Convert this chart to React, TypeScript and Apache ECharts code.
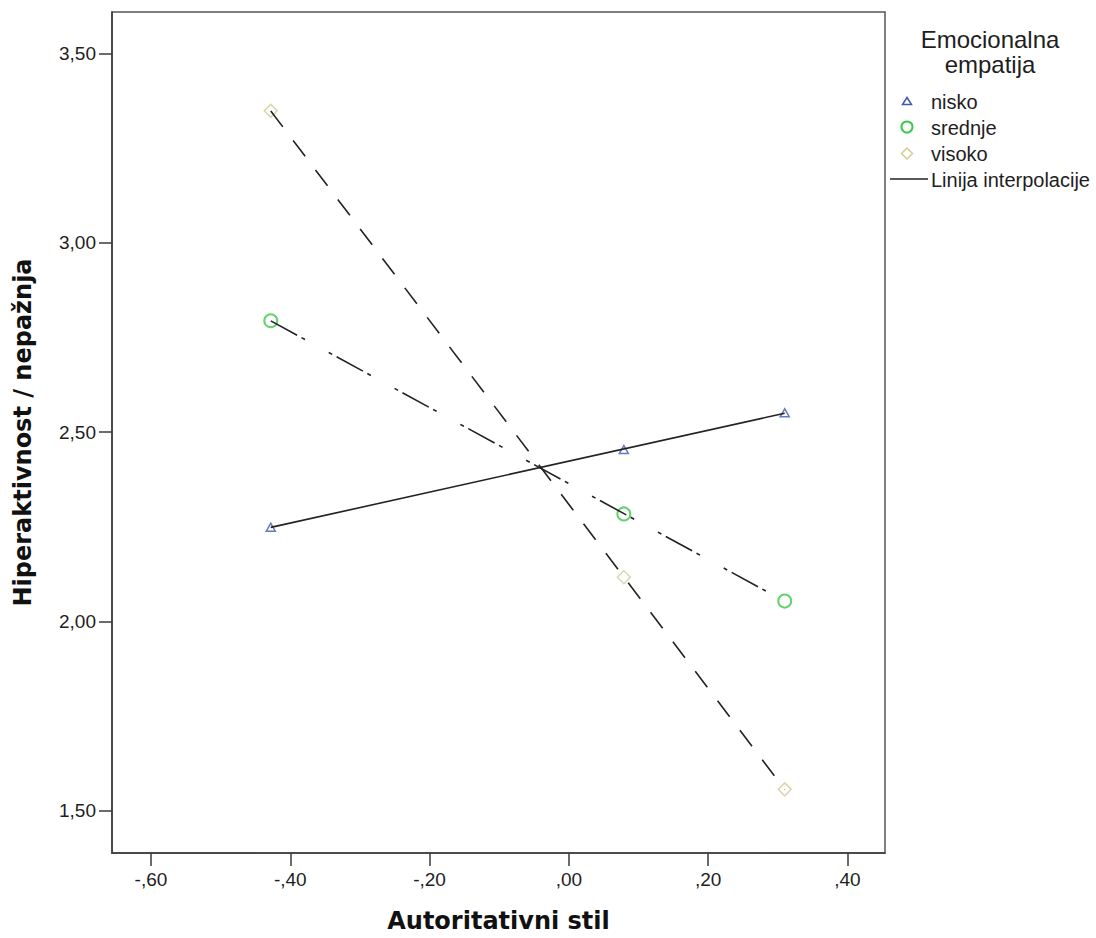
import React, { useEffect, useRef } from "react";
import * as echarts from "echarts";

// Data
const xValues = [-0.428, 0.079, 0.31];
const niskoY = [2.249, 2.454, 2.551];
const srednjeY = [2.794, 2.284, 2.054];
const visokoY = [3.348, 2.117, 1.557];
const xTicks = [-0.6, -0.4, -0.2, 0, 0.2, 0.4];
const yTicks = [1.5, 2.0, 2.5, 3.0, 3.5];
const groupNames = ["nisko", "srednje", "visoko"];
const legendTitle = ["Emocionalna", "empatija"];
const lineLegend = "Linija interpolacije";

const pairs = (ys: number[]) => xValues.map((x, i) => [x, ys[i]]);

// least-squares line through the group's points, drawn between min and max x
function fitLine(ys: number[]) {
  const n = xValues.length;
  const mx = xValues.reduce((a, b) => a + b, 0) / n;
  const my = ys.reduce((a, b) => a + b, 0) / n;
  let sxy = 0;
  let sxx = 0;
  for (let i = 0; i < n; i++) {
    sxy += (xValues[i] - mx) * (ys[i] - my);
    sxx += (xValues[i] - mx) * (xValues[i] - mx);
  }
  const b = sxy / sxx;
  const a = my - b * mx;
  const x0 = Math.min(...xValues);
  const x1 = Math.max(...xValues);
  return [
    [x0, a + b * x0],
    [x1, a + b * x1],
  ];
}

const fmtX = (v: number) => v.toFixed(2).replace("0.", ",");
const fmtY = (v: number) => v.toFixed(2).replace(".", ",");

const BLUE = "#3f58b4";
const GREEN = "#3cc84a";
const BEIGE = "#d3cc96";
const LINE = "#222222";
const AXIS = "#3a3a3a";
const TXT = "#1e1e1e";

export default function App() {
  const ref = useRef<HTMLDivElement>(null);
  useEffect(() => {
    if (!ref.current) return;
    const chart = echarts.init(ref.current, null, { renderer: "svg" });
    const tickFont = { fontFamily: "Liberation Sans", fontSize: 19, color: TXT };
    const nameFont = { fontFamily: "DejaVu Sans", fontWeight: "bold" as const, fontSize: 24, color: "#111" };
    const legendFont = { fontFamily: "Liberation Sans", fontSize: 20, fill: TXT };
    chart.setOption({
      animation: false,
      backgroundColor: "#ffffff",
      grid: {
        left: 112,
        top: 12,
        right: 211,
        bottom: 85,
        show: true,
        borderColor: "#555",
        borderWidth: 1.5,
        containLabel: false,
      },
      xAxis: {
        type: "value",
        min: -0.656,
        max: 0.454,
        name: "Autoritativni stil",
        nameLocation: "middle",
        nameGap: 56,
        nameTextStyle: nameFont,
        axisLine: { show: true, onZero: false, lineStyle: { color: AXIS, width: 1.5 } },
        axisTick: { show: true, length: 13, customValues: xTicks, lineStyle: { color: AXIS, width: 1.5 } },
        axisLabel: { customValues: xTicks, margin: 17, ...tickFont, formatter: (v: number) => fmtX(v) },
        splitLine: { show: false },
      },
      yAxis: {
        type: "value",
        min: 1.389,
        max: 3.609,
        name: "Hiperaktivnost / nepažnja",
        nameLocation: "middle",
        nameGap: 77,
        nameTextStyle: nameFont,
        axisLine: { show: true, onZero: false, lineStyle: { color: AXIS, width: 1.5 } },
        axisTick: { show: true, length: 13, customValues: yTicks, lineStyle: { color: AXIS, width: 1.5 } },
        axisLabel: { customValues: yTicks, margin: 16, ...tickFont, formatter: (v: number) => fmtY(v) },
        splitLine: { show: false },
      },
      series: [
        {
          name: groupNames[0],
          type: "scatter",
          data: pairs(niskoY),
          symbol: "triangle",
          symbolSize: [9, 8],
          itemStyle: { color: "rgba(0,0,0,0)", borderColor: BLUE, borderWidth: 1.5 },
          z: 2,
        },
        {
          name: groupNames[1],
          type: "scatter",
          data: pairs(srednjeY),
          symbol: "circle",
          symbolSize: 13,
          itemStyle: { color: "rgba(0,0,0,0)", borderColor: GREEN, borderWidth: 2 },
          z: 2,
        },
        {
          name: groupNames[2],
          type: "scatter",
          data: pairs(visokoY),
          symbol: "diamond",
          symbolSize: 13,
          itemStyle: { color: "rgba(0,0,0,0)", borderColor: BEIGE, borderWidth: 1.5 },
          z: 2,
        },
        {
          name: groupNames[0] + " fit",
          type: "line",
          data: fitLine(niskoY),
          symbol: "none",
          lineStyle: { color: LINE, width: 1.6, type: "solid" },
          z: 3,
          silent: true,
        },
        {
          name: groupNames[1] + " fit",
          type: "line",
          data: fitLine(srednjeY),
          symbol: "none",
          lineStyle: { color: LINE, width: 1.6, type: [30, 5, 4, 27, 4, 5] },
          z: 3,
          silent: true,
        },
        {
          name: groupNames[2] + " fit",
          type: "line",
          data: fitLine(visokoY),
          symbol: "none",
          lineStyle: { color: LINE, width: 1.6, type: [20, 17] },
          z: 3,
          silent: true,
        },
      ],
      graphic: [
        {
          type: "text",
          x: 990,
          y: 39,
          style: { text: legendTitle[0], fontFamily: "Liberation Sans", fontSize: 24, fill: TXT, align: "center", verticalAlign: "middle" },
        },
        {
          type: "text",
          x: 990,
          y: 64,
          style: { text: legendTitle[1], fontFamily: "Liberation Sans", fontSize: 24, fill: TXT, align: "center", verticalAlign: "middle" },
        },
        {
          type: "polygon",
          shape: { points: [[907, 97.5], [902.5, 104.5], [911.5, 104.5]] },
          style: { fill: "none", stroke: BLUE, lineWidth: 1.5 },
        },
        {
          type: "circle",
          shape: { cx: 907, cy: 127, r: 5.5 },
          style: { fill: "none", stroke: GREEN, lineWidth: 2 },
        },
        {
          type: "polygon",
          shape: { points: [[907, 148], [912.5, 153.5], [907, 159], [901.5, 153.5]] },
          style: { fill: "none", stroke: BEIGE, lineWidth: 1.5 },
        },
        {
          type: "line",
          shape: { x1: 890, y1: 179, x2: 928, y2: 179 },
          style: { stroke: LINE, lineWidth: 1.6 },
        },
        { type: "text", x: 931, y: 102, style: { text: groupNames[0], ...legendFont, verticalAlign: "middle" } },
        { type: "text", x: 931, y: 128, style: { text: groupNames[1], ...legendFont, verticalAlign: "middle" } },
        { type: "text", x: 931, y: 154, style: { text: groupNames[2], ...legendFont, verticalAlign: "middle" } },
        { type: "text", x: 931, y: 180, style: { text: lineLegend, ...legendFont, verticalAlign: "middle" } },
      ],
    });
    return () => chart.dispose();
  }, []);
  return (
    <div
      ref={ref}
      style={{ position: "fixed", left: 0, top: 0, width: 1096, height: 938, background: "#fff" }}
    />
  );
}
